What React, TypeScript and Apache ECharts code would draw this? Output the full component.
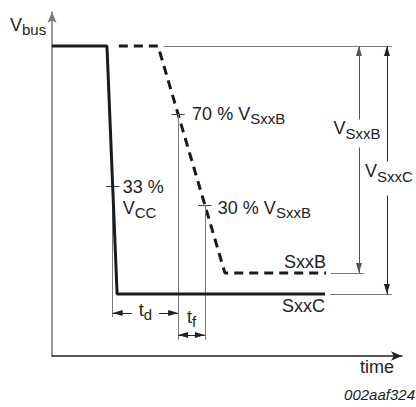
import React, { useEffect, useRef } from "react";
import * as echarts from "echarts";

const FAMILY = "'Liberation Sans', Arial, Helvetica, sans-serif";

// Axis ranges (time in arbitrary units, voltage in % of the Vbus high level)
const X_MAX = 100;
const Y_MAX = 111;
const V_HIGH = 100;
const V_SXXB = 26.8;
const V_SXXC = 20;

// SxxC output (solid line)
const sxxcTime = [0, 15.7, 18.6, 78];
const sxxcLevel = [V_HIGH, V_HIGH, V_SXXC, V_SXXC];

// SxxB output (dashed line)
const sxxbTime = [19.1, 30.3, 49.4, 78.3];
const sxxbLevel = [V_HIGH, V_HIGH, V_SXXB, V_SXXB];

// measurement points
const PCT_HIGH = 0.7;
const PCT_LOW = 0.3;
const VCC_MARK = 54.8; // 33 % VCC level
const TOP_REF = [31.9, 97.1];
const SXXB_REF = [79.7, 89.1];
const SXXC_REF = [79.4, 97.1];
const ARROW_B_X = 87.7;
const ARROW_C_X = 95.7;
const TD_Y = 13.9;
const TF_Y = 6.8;
const VCC_DROP = 12.6;
const SXXB_DROP = 5.2;
const TICK_HALF = 1.9;

function crossAt(ts: number[], vs: number[], level: number) {
  for (let i = 0; i < ts.length - 1; i++) {
    const a = vs[i];
    const b = vs[i + 1];
    if (a !== b && (a - level) * (b - level) <= 0) {
      const t = (level - a) / (b - a);
      return ts[i] + t * (ts[i + 1] - ts[i]);
    }
  }
  return ts[0];
}

const measureCtx = (() => {
  const c = document.createElement("canvas");
  return c.getContext("2d") as CanvasRenderingContext2D;
})();
function measure(text: string, size: number, italic = false) {
  measureCtx.font = `${italic ? "italic " : ""}${size}px "Liberation Sans"`;
  return measureCtx.measureText(text).width;
}

const TEXT_COLOR = "#222";

function txt(x: number, base: number, text: string, size: number, align = "left", italic = false) {
  return {
    type: "text",
    x,
    y: base - 0.35 * size,
    z: 20,
    silent: true,
    style: {
      text,
      fontSize: size,
      fontFamily: FAMILY,
      fontStyle: italic ? "italic" : "normal",
      fill: TEXT_COLOR,
      align,
      textAlign: align,
      verticalAlign: "middle",
      textVerticalAlign: "middle",
    },
  };
}

function pair(
  x: number,
  base: number,
  main: string,
  sub: string,
  align: "left" | "center" | "right" = "left",
  size = 18,
  subSize = 15,
  drop = 4
) {
  const wm = measure(main, size);
  const ws = measure(sub, subSize);
  const total = wm + ws;
  let left = x;
  if (align === "center") left = x - total / 2;
  if (align === "right") left = x - total;
  return {
    els: [txt(left, base, main, size), txt(left + wm, base + drop, sub, subSize)],
    left,
    width: total,
  };
}

function whiteRect(x: number, y: number, w: number, h: number) {
  return {
    type: "rect",
    z: 15,
    silent: true,
    shape: { x, y, width: w, height: h },
    style: { fill: "#fff" },
  };
}

const GRAY = "#7a7a7a";
const DARK = "#222";
const arrowTip = { symbol: "triangle", symbolSize: [6, 10], symbolOffset: [0, 5] };

function seg(a: number[], b: number[], color = GRAY, startArrow = false, endArrow = false) {
  return [
    {
      coord: a,
      lineStyle: { color, width: 1, type: "solid" },
      ...(startArrow ? arrowTip : { symbol: "none" }),
    },
    { coord: b, ...(endArrow ? arrowTip : { symbol: "none" }) },
  ];
}

export default function App() {
  const ref = useRef<HTMLDivElement>(null);

  useEffect(() => {
    const chart = echarts.init(ref.current!, null, { renderer: "svg" });

    const lvlHigh = V_SXXB + PCT_HIGH * (V_HIGH - V_SXXB);
    const lvlLow = V_SXXB + PCT_LOW * (V_HIGH - V_SXXB);
    const x70 = crossAt(sxxbTime, sxxbLevel, lvlHigh);
    const x30 = crossAt(sxxbTime, sxxbLevel, lvlLow);
    const x33 = crossAt(sxxcTime, sxxcLevel, VCC_MARK);

    const markData = [
      seg([TOP_REF[0], V_HIGH], [TOP_REF[1], V_HIGH]),
      seg([SXXB_REF[0], V_SXXB], [SXXB_REF[1], V_SXXB]),
      seg([SXXC_REF[0], V_SXXC], [SXXC_REF[1], V_SXXC]),
      seg([ARROW_B_X, V_HIGH], [ARROW_B_X, V_SXXB], "#555", true, true),
      seg([ARROW_C_X, V_HIGH], [ARROW_C_X, V_SXXC], DARK, true, true),
      seg([x70 - TICK_HALF, lvlHigh], [x70 + TICK_HALF, lvlHigh], "#444"),
      seg([x70, lvlHigh], [x70, SXXB_DROP]),
      seg([x33 - TICK_HALF, VCC_MARK], [x33 + TICK_HALF, VCC_MARK], "#444"),
      seg([x33, VCC_MARK], [x33, VCC_DROP]),
      seg([x30 - TICK_HALF, lvlLow], [x30 + TICK_HALF, lvlLow], "#444"),
      seg([x30, lvlLow], [x30, SXXB_DROP]),
      seg([x33, TD_Y], [x70, TD_Y], DARK, true, true),
      seg([x70, TF_Y], [x30, TF_Y], DARK, true, true),
    ];

    const hiddenAxisParts = {
      axisTick: { show: false },
      axisLabel: { show: false },
      splitLine: { show: false },
    };

    chart.setOption({
      animation: false,
      backgroundColor: "#fff",
      grid: { left: 52, right: 14, top: 12, bottom: 51 },
      xAxis: {
        type: "value",
        min: 0,
        max: X_MAX,
        axisLine: {
          show: true,
          symbol: ["none", "arrow"],
          symbolSize: [7, 11],
          lineStyle: { color: "#222", width: 1.5 },
        },
        ...hiddenAxisParts,
      },
      yAxis: {
        type: "value",
        min: 0,
        max: Y_MAX,
        axisLine: {
          show: true,
          symbol: ["none", "arrow"],
          symbolSize: [7, 11],
          lineStyle: { color: "#777", width: 1.5 },
        },
        ...hiddenAxisParts,
      },
      series: [
        {
          name: "SxxB",
          type: "line",
          data: sxxbTime.map((t, i) => [t, sxxbLevel[i]]),
          symbol: "none",
          silent: true,
          z: 4,
          lineStyle: { color: "#1a1a1a", width: 3, type: [9, 6] },
        },
        {
          name: "SxxC",
          type: "line",
          data: sxxcTime.map((t, i) => [t, sxxcLevel[i]]),
          symbol: "none",
          silent: true,
          z: 5,
          lineStyle: { color: "#1a1a1a", width: 3, type: "solid" },
          markLine: {
            silent: true,
            symbol: ["none", "none"],
            label: { show: false },
            emphasis: { disabled: true },
            lineStyle: { color: GRAY, width: 1, type: "solid" },
            itemStyle: { color: "#1a1a1a" },
            data: markData,
          },
        },
      ],
    });

    const px = (x: number, y: number) => chart.convertToPixel({ gridIndex: 0 }, [x, y]) as number[];

    const els: any[] = [];
    const axisTop = px(0, Y_MAX);
    const axisEnd = px(X_MAX, 0);
    // Vbus
    els.push(...pair(axisTop[0] - 42, axisTop[1] + 19, "V", "bus").els);
    // 70 %
    const p70 = px(x70, lvlHigh);
    els.push(...pair(p70[0] + 14, p70[1] + 6, "70 % V", "SxxB").els);
    // 33 % VCC
    const p33 = px(x33, VCC_MARK);
    els.push(txt(p33[0] + 10, p33[1] + 7, "33 %", 18));
    els.push(...pair(p33[0] + 10, p33[1] + 28, "V", "CC").els);
    // 30 %
    const p30 = px(x30, lvlLow);
    els.push(...pair(p30[0] + 13, p30[1] + 9, "30 % V", "SxxB").els);
    // line names
    const endB = px(sxxbTime[sxxbTime.length - 1], V_SXXB);
    const endC = px(sxxcTime[sxxcTime.length - 1], V_SXXC);
    els.push(txt(endB[0], endB[1] - 5, "SxxB", 18, "right"));
    els.push(txt(endC[0], endC[1] + 18, "SxxC", 18, "right"));
    // VSxxB
    const bTop = px(ARROW_B_X, V_HIGH);
    const bBot = px(ARROW_B_X, V_SXXB);
    const bBase = bTop[1] + 0.39 * (bBot[1] - bTop[1]);
    const lb = pair(bTop[0] - 2, bBase, "V", "SxxB", "center");
    els.push(whiteRect(lb.left, bBase - 15, lb.width, 28), ...lb.els);
    // VSxxC
    const cTop = px(ARROW_C_X, V_HIGH);
    const cBot = px(ARROW_C_X, V_SXXC);
    const cBase = cTop[1] + 0.53 * (cBot[1] - cTop[1]);
    const lc = pair(cTop[0] + 2, cBase, "V", "SxxC", "center");
    els.push(whiteRect(lc.left, cBase - 16, lc.width, 34), ...lc.els);
    // td
    const tdL = px(x33, TD_Y);
    const tdR = px(x70, TD_Y);
    const tdMid = (tdL[0] + tdR[0]) / 2;
    const ltd = pair(tdMid, tdL[1] + 3, "t", "d", "center");
    els.push(whiteRect(ltd.left - 7, tdL[1] - 4, ltd.width + 14, 8), ...ltd.els);
    // tf
    const tfL = px(x70, TF_Y);
    const tfR = px(x30, TF_Y);
    const tfMid = (tfL[0] + tfR[0]) / 2;
    els.push(...pair(tfMid, tfL[1] - 12, "t", "f", "center").els);
    // axis name and figure id
    els.push(txt(axisEnd[0] - 8, axisEnd[1] + 17, "time", 18, "right"));
    els.push(txt(415, 400, "002aaf324", 15, "right", true));

    chart.setOption({ graphic: els });

    return () => chart.dispose();
  }, []);

  return (
    <div
      ref={ref}
      style={{ position: "fixed", left: 0, top: 0, width: 416, height: 407, background: "#fff" }}
    />
  );
}
